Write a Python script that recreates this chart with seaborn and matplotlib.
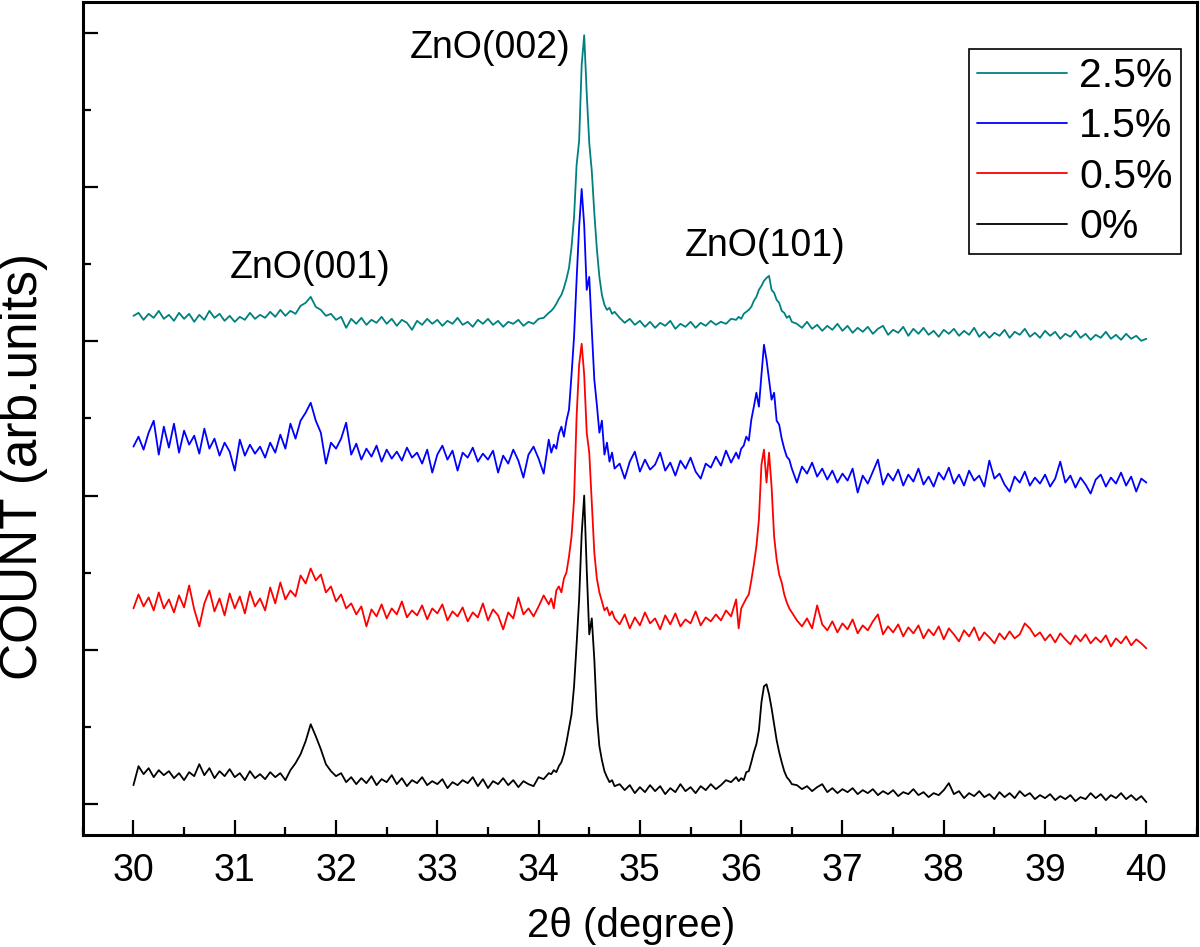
import numpy as np
import pandas as pd
import matplotlib
matplotlib.use('Agg')
import matplotlib.pyplot as plt
from matplotlib.ticker import MultipleLocator
import seaborn as sns

# 2-theta sampling grid: coarse on the background, finer over the sharp peaks
theta = np.round(np.concatenate([
    30.00 + 0.05 * np.arange(83),    # 30.00 - 34.10
    34.125 + 0.025 * np.arange(26),  # 34.125 - 34.75
    34.80 + 0.05 * np.arange(24),    # 34.80 - 35.95
    35.975 + 0.025 * np.arange(22),  # 35.975 - 36.50
    36.55 + 0.05 * np.arange(70),    # 36.55 - 40.00
]), 3)

# intensities (arb. units, stacked as in the figure)
zn0 = [
    19, 38, 30, 36, 27, 34, 29, 33, 26, 31,
    24, 32, 28, 40, 29, 36, 26, 33, 28, 35,
    27, 31, 24, 33, 26, 30, 25, 32, 27, 31,
    24, 34, 41, 50, 63, 80, 68, 55, 40, 33,
    28, 31, 22, 27, 20, 26, 21, 28, 19, 25,
    22, 29, 20, 26, 18, 24, 21, 27, 19, 23,
    20, 25, 16, 22, 19, 24, 21, 27, 18, 25,
    16, 23, 20, 26, 19, 24, 17, 23, 20, 18,
    27, 25, 31,
    30, 34, 32, 38, 42, 50, 62, 76, 90, 118,
    160, 205, 270, 309, 235, 170, 186, 145, 88, 58,
    44, 33, 27, 22, 24, 18,
    20, 14, 19, 11, 17, 12, 19, 13, 18, 10,
    16, 12, 20, 13, 17, 11, 18, 14, 20, 15,
    19, 24, 22, 27,
    23, 26, 24, 32, 33, 42, 52, 60, 74, 102,
    118, 120, 110, 96, 80, 64, 52, 42, 33, 27,
    24, 20,
    19, 15, 18, 13, 17, 20, 12, 16, 11, 15,
    12, 16, 10, 14, 11, 15, 9, 13, 10, 14,
    8, 12, 10, 15, 9, 12, 7, 11, 9, 14,
    21, 10, 13, 6, 11, 8, 13, 7, 10, 5,
    12, 7, 11, 6, 13, 8, 11, 5, 9, 6,
    10, 4, 8, 5, 9, 3, 7, 5, 11, 6,
    10, 4, 9, 6, 11, 5, 9, 4, 8, 2,
]
zn05 = [
    196, 210, 198, 207, 194, 212, 196, 205, 192, 209,
    197, 219, 195, 178, 201, 214, 193, 206, 189, 211,
    196, 208, 191, 213, 198, 206, 194, 217, 201, 222,
    205, 214, 208, 229, 221, 236, 224, 230, 212, 218,
    203, 210, 196, 201, 190, 198, 178, 195, 188, 200,
    186, 196, 190, 203, 187, 194, 189, 199, 185, 196,
    191, 200, 184, 193, 188, 197, 183, 192, 187, 201,
    184, 195, 189, 175, 192, 186, 207, 190, 196, 188,
    198, 209, 200,
    206, 196, 214, 218, 212, 226, 232, 248, 268, 305,
    388, 440, 461, 430, 372, 352, 302, 252, 226, 212,
    203, 194, 197, 189, 193, 186,
    180, 190, 176, 187, 179, 192, 181, 186, 175, 189,
    180, 191, 178, 185, 181, 193, 179, 187, 183, 190,
    184, 194, 188, 205,
    176, 196, 201, 206, 210, 224, 240, 258, 285, 340,
    355, 322, 352, 318, 268, 245, 230, 222, 210, 202,
    196, 192,
    184, 178, 186, 176, 199, 180, 174, 183, 172, 181,
    175, 185, 171, 179, 174, 183, 190, 170, 178, 172,
    180, 168, 177, 171, 179, 166, 175, 169, 178, 165,
    176, 170, 163, 174, 168, 177, 164, 172, 167, 161,
    171, 165, 173, 166, 170, 181, 176, 168, 172, 164,
    170, 162, 171, 165, 160, 169, 163, 170, 161, 167,
    162, 169, 158, 166, 161, 168, 159, 165, 161, 156,
]
zn15 = [
    358, 368, 355, 372, 384, 350, 378, 357, 381, 352,
    374, 360, 369, 351, 376, 356, 366, 349, 362, 353,
    334, 365, 349, 360, 351, 358, 347, 362, 352, 370,
    356, 381, 366, 384, 392, 402, 384, 372, 341, 362,
    356, 366, 382, 350, 361, 345, 356, 348, 359, 343,
    355, 346, 353, 344, 357, 347, 352, 341, 355, 332,
    350, 359, 345, 354, 334, 352, 347, 357, 343, 351,
    345, 354, 332, 349, 341, 355, 344, 327, 350, 358,
    346, 331, 365,
    352, 360, 356, 371, 378, 368, 384, 395, 430, 468,
    525, 578, 616, 580, 515, 528, 475, 425, 400, 372,
    384, 350, 362, 343, 352, 336,
    341, 326, 343, 353, 333, 345, 335, 340, 352, 334,
    342, 329, 344, 336, 347, 333, 326, 341, 337, 348,
    339, 354, 342, 352,
    346, 356, 359, 368, 364, 385, 398, 412, 398, 430,
    460, 445, 425, 405, 412, 384, 380, 366, 356, 348,
    345, 336,
    322, 338, 331, 342, 328, 336, 325, 334, 322, 331,
    324, 336, 312, 329, 321, 333, 345, 320, 331, 324,
    335, 319, 330, 323, 336, 320, 328, 318, 332, 325,
    337, 321, 330, 319, 334, 324, 329, 318, 344, 326,
    331, 320, 313, 328, 322, 333, 319, 327, 321, 330,
    318, 326, 343, 322, 329, 317, 327, 320, 311, 325,
    330, 318, 327, 321, 332, 319, 328, 313, 326, 322,
]
zn25 = [
    489, 492, 485, 491, 487, 494, 486, 490, 484, 492,
    486, 491, 483, 490, 485, 494, 487, 491, 484, 489,
    483, 488, 485, 492, 486, 490, 487, 493, 488, 495,
    489, 494, 491, 499, 502, 508, 498, 495, 489, 491,
    485, 488, 477, 486, 481, 487, 480, 485, 482, 488,
    481, 486, 479, 485, 482, 475, 484, 480, 486, 481,
    485, 479, 484, 481, 487, 480, 483, 478, 485, 481,
    486, 480, 484, 478, 483, 481, 485, 479, 483, 481,
    486, 487, 492,
    494, 497, 501, 506, 510, 517, 526, 537, 558, 588,
    640, 664, 740, 770, 712, 662, 634, 592, 556, 528,
    510, 500, 495, 497, 491, 493,
    487, 482, 486, 480, 484, 478, 483, 477, 482, 479,
    484, 476, 481, 478, 483, 477, 482, 479, 484, 480,
    483, 481, 486, 485,
    488, 486, 491, 493, 495, 498, 504, 508, 515, 519,
    524, 527, 529, 515, 512, 505, 502, 494, 492, 487,
    489, 483,
    481, 477, 483, 476, 480, 474, 479, 475, 481, 474,
    479, 472, 477, 473, 478, 471, 476, 479, 470, 475,
    472, 478, 469, 476, 471, 477, 470, 474, 468, 475,
    471, 476, 469, 474, 470, 477, 468, 473, 467, 472,
    469, 475, 467, 473, 470, 476, 468, 472, 467, 474,
    469, 473, 466, 471, 468, 474, 467, 471, 465, 470,
    467, 473, 466, 470, 465, 471, 466, 469, 464, 466,
]

samples = ['2.5%', '1.5%', '0.5%', '0%']
colors = ['#008080', '#0000ff', '#ff0000', '#000000']
series = [zn25, zn15, zn05, zn0]

df = pd.concat([pd.DataFrame({'theta': theta, 'count': vals, 'sample': name})
                for name, vals in zip(samples, series)], ignore_index=True)

sns.set_style('ticks')
plt.rcParams['font.family'] = ['Liberation Sans', 'DejaVu Sans']
for key in ['text.color', 'axes.labelcolor', 'xtick.color', 'ytick.color']:
    plt.rcParams[key] = 'black'

fig = plt.figure(figsize=(12, 9.47), dpi=100)
ax = fig.add_axes([0.069, 0.1183, 0.9285, 0.8797])

sns.lineplot(data=df, x='theta', y='count', hue='sample', hue_order=samples,
             palette=colors, estimator=None, sort=False, linewidth=1.3, ax=ax)

unit = 154.5  # spacing of the unlabeled major y ticks
ax.set_xlim(29.5, 40.5)
ax.set_ylim(-0.2 * unit, 5.2 * unit)
ax.xaxis.set_major_locator(MultipleLocator(1))
ax.xaxis.set_minor_locator(MultipleLocator(0.5))
ax.yaxis.set_major_locator(MultipleLocator(unit))
ax.yaxis.set_minor_locator(MultipleLocator(unit / 2))
ax.set_yticklabels([])
ax.tick_params(which='both', direction='in', width=1.6, labelsize=27)
ax.tick_params(which='major', length=11, pad=13)
ax.tick_params(which='minor', length=5.5)
ax.tick_params(axis='y', which='both', left=True, right=False)
ax.tick_params(axis='x', which='both', top=False)
for sp in ax.spines.values():
    sp.set_linewidth(2.2)
    sp.set_color('black')

ax.set_xlabel('2θ (degree)', fontsize=29)
ax.set_ylabel('COUNT (arb.units)', fontsize=37)
ax.xaxis.set_label_coords(0.492, -0.086)
ax.yaxis.set_label_coords(-0.031, 0.442)

for label, x, y in [('ZnO(001)', 31.74, 527), ('ZnO(002)', 33.52, 747), ('ZnO(101)', 36.235, 549)]:
    ax.text(x, y, label, fontsize=27, ha='center', va='baseline')

leg = ax.legend(loc='upper right', bbox_to_anchor=(0.9856, 0.9436), fontsize=29.5,
                frameon=True, fancybox=False, framealpha=1, edgecolor='black',
                handlelength=2.2, handletextpad=0.3, labelspacing=0.3,
                borderpad=0.2, borderaxespad=0)
leg.get_frame().set_linewidth(1.2)
for line in leg.get_lines():
    line.set_linewidth(1.3)

fig.savefig('out.png', dpi=100)
